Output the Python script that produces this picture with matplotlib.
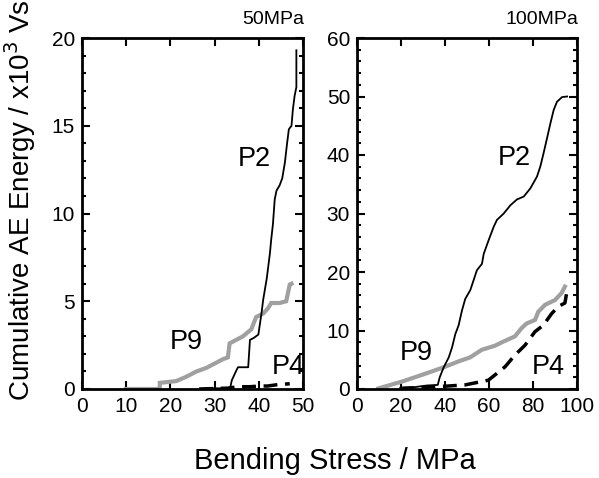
import matplotlib
matplotlib.use("Agg")
import matplotlib.pyplot as plt
from matplotlib.ticker import MultipleLocator

plt.rcParams['font.family'] = ['Liberation Sans', 'DejaVu Sans']

# ---- 50 MPa panel data ----
p2_50_x = [29.6, 33.5, 33.9, 35.0, 35.3, 37.6, 38.0, 38.8, 39.9, 40.6, 41.0, 41.4, 41.8, 42.5,
           42.8, 43.2, 43.6, 44.0, 44.7, 45.3, 45.9, 46.4, 46.8, 47.4, 47.7, 48.1, 48.5, 48.5]
p2_50_y = [0.04, 0.04, 0.5, 1.1, 1.24, 1.24, 2.8, 2.9, 3.1, 4.3, 5.1, 5.7, 6.3, 7.7,
           8.5, 9.4, 10.8, 11.3, 11.6, 12.0, 12.9, 14.0, 14.8, 15.0, 15.9, 16.7, 17.2, 19.3]
p9_50_x = [10.0, 17.6, 17.6, 21.3, 23.6, 25.9, 28.1, 30.4, 31.9, 33.0, 33.4, 34.9, 36.4, 38.3,
           39.4, 41.0, 42.1, 42.8, 44.7, 46.2, 47.0, 47.4]
p9_50_y = [0.0, 0.0, 0.35, 0.45, 0.7, 1.0, 1.2, 1.5, 1.7, 1.8, 2.6, 2.8, 3.0, 3.4,
           4.1, 4.3, 4.6, 4.9, 4.9, 5.0, 5.95, 6.0]
p4_50_x = [26.5, 33.0, 35.3, 38.0, 40.3, 42.0, 44.3, 47.0]
p4_50_y = [0.0, 0.05, 0.13, 0.13, 0.17, 0.17, 0.25, 0.3]

# ---- 100 MPa panel data ----
p2_100_x = [19.7, 25.8, 31.8, 36.7, 37.6, 39.4, 41.7, 43.2, 44.7, 46.2, 47.7, 49.2, 51.5, 53.0,
            54.5, 56.8, 57.6, 59.8, 62.1, 63.6, 66.7, 69.7, 72.7, 75.8, 78.8, 81.8, 83.3, 84.8,
            86.4, 87.9, 89.4, 90.9, 93.2, 95.5]
p2_100_y = [0.2, 0.3, 0.6, 0.7, 2.0, 3.7, 5.4, 7.1, 9.4, 10.9, 13.4, 15.4, 16.9, 18.6,
            20.3, 21.4, 23.1, 25.4, 27.7, 28.9, 30.0, 31.4, 32.4, 32.9, 34.3, 36.3, 38.0, 40.3,
            42.9, 45.4, 47.7, 49.1, 49.9, 50.0]
p9_100_x = [9.7, 20.3, 29.4, 35.5, 40.0, 46.0, 51.4, 56.7, 62.7, 66.5, 71.8, 74.8, 77.1, 80.9,
            82.4, 85.5, 90.0, 93.0, 94.5]
p9_100_y = [0.1, 1.25, 2.4, 3.2, 3.8, 4.7, 5.4, 6.7, 7.4, 8.1, 9.0, 10.4, 11.2, 11.8,
            13.2, 14.4, 15.2, 16.4, 17.5]
p4_100_x = [19.5, 37.0, 49.1, 59.7, 62.7, 67.3, 71.8, 76.4, 80.9, 84.7, 88.5, 91.5, 94.5, 95.3]
p4_100_y = [0.1, 0.4, 0.7, 1.5, 2.4, 3.8, 5.8, 7.5, 9.8, 10.9, 12.9, 14.1, 14.7, 16.4]

panel_titles = ["50MPa", "100MPa"]

W, H = 599, 478
fig = plt.figure(figsize=(W / 100, H / 100), dpi=100)
ax1 = fig.add_axes([82 / W, (H - 389) / H, 221 / W, 351 / H])
ax2 = fig.add_axes([357 / W, (H - 389) / H, 220 / W, 351 / H])

gray = '#a0a0a0'
for ax, p2x, p2y, p9x, p9y, p4x, p4y in [
        (ax1, p2_50_x, p2_50_y, p9_50_x, p9_50_y, p4_50_x, p4_50_y),
        (ax2, p2_100_x, p2_100_y, p9_100_x, p9_100_y, p4_100_x, p4_100_y)]:
    ax.plot(p9x, p9y, color=gray, lw=3.0, solid_joinstyle='miter')
    ax.plot(p4x, p4y, color='black', lw=2.5, dashes=(4, 2.2))
    ax.plot(p2x, p2y, color='black', lw=1.3)

ax1.set_xlim(0, 50); ax1.set_ylim(0, 20)
ax1.xaxis.set_major_locator(MultipleLocator(10))
ax1.yaxis.set_major_locator(MultipleLocator(5))
ax1.yaxis.set_minor_locator(MultipleLocator(1))
ax2.set_xlim(0, 100); ax2.set_ylim(0, 60)
ax2.xaxis.set_major_locator(MultipleLocator(20))
ax2.yaxis.set_major_locator(MultipleLocator(10))
ax2.yaxis.set_minor_locator(MultipleLocator(2))

for ax, title in zip([ax1, ax2], panel_titles):
    for s in ax.spines.values():
        s.set_linewidth(2)
    ax.tick_params(which='both', direction='in', top=True, right=True, width=1.5)
    ax.tick_params(which='major', length=6, labelsize=15, pad=5)
    ax.tick_params(which='minor', length=3)
    ax.tick_params(axis='x', which='major', pad=6)
    ax.text(1.005, 1.028, title, transform=ax.transAxes, ha='right', va='bottom', fontsize=14)

lab = dict(fontsize=19.5, va='baseline')
ax1.text(35.3, 12.7, "P2", **lab)
ax1.text(19.9, 2.3, "P9", **lab)
ax1.text(43.0, 0.86, "P4", **lab)
ax2.text(64.0, 38.3, "P2", **lab)
ax2.text(19.5, 5.0, "P9", **lab)
ax2.text(79.5, 2.6, "P4", **lab)

fig.text(20 / W, 1 - 200 / H, r"Cumulative AE Energy / x10$^{3}$ Vs", rotation=90,
         ha='center', va='center', fontsize=20)
fig.text(335 / W, (H - 469) / H, "Bending Stress / MPa", ha='center', va='baseline', fontsize=21)

fig.savefig("out.png", dpi=100)
